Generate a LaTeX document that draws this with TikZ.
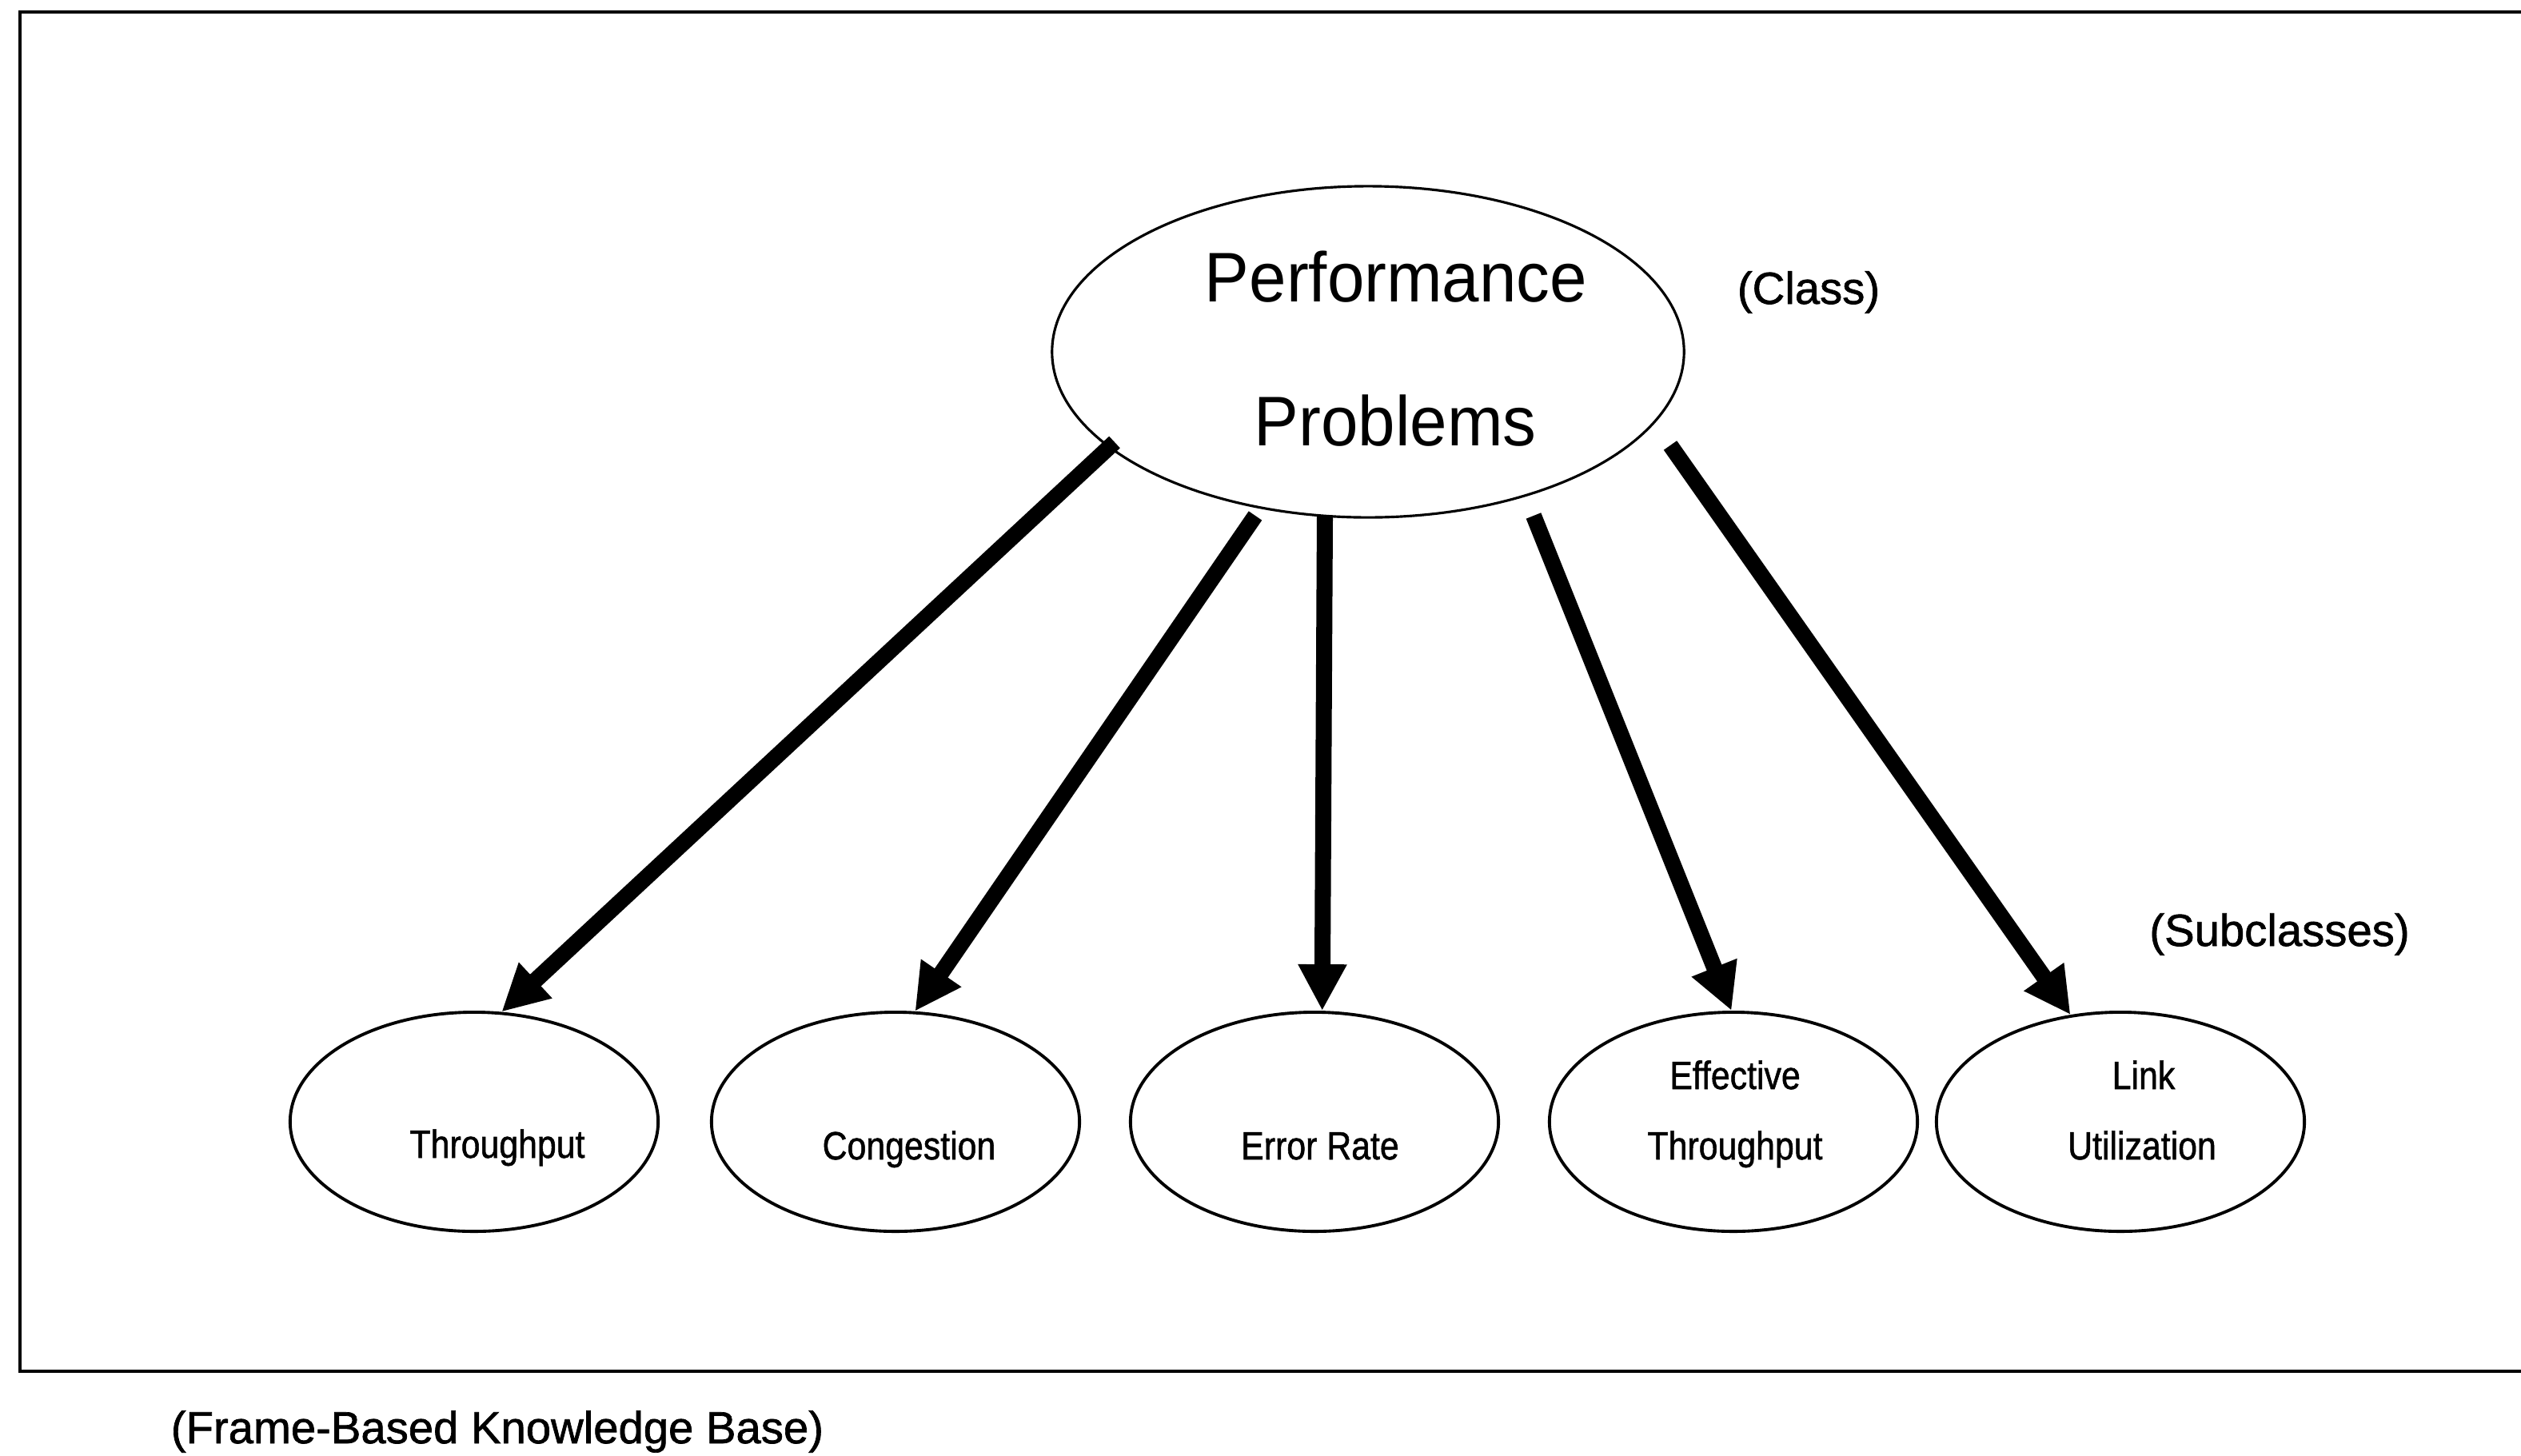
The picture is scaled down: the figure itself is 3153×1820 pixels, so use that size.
\documentclass[tikz,border=0pt]{standalone}
\usepackage{graphicx}
\usepackage{fontspec}
\setmainfont{Liberation Sans}
\newfontfamily\labelfont[FakeBold=1.2]{Liberation Sans}
\usetikzlibrary{arrows.meta,shapes.geometric,calc}
\begin{document}
\begin{tikzpicture}[x=0.01cm,y=-0.01cm,
  classoval/.style={ellipse,draw,line width=0.9pt,inner sep=0pt,
    minimum width=7.9cm,minimum height=4.14cm},
  suboval/.style={ellipse,draw,line width=1.1pt,inner sep=0pt,
    minimum width=4.6cm,minimum height=2.74cm},
  isa/.style={line width=5.7pt,-{Triangle[length=0.58cm,width=0.57cm]}},
  bigtext/.style={font=\fontsize{25}{30}\selectfont,anchor=base,inner sep=0pt},
  sidetext/.style={font=\labelfont\fontsize{16}{19}\selectfont,anchor=base,inner sep=0pt},
  subtext/.style={font=\labelfont\fontsize{14}{17}\selectfont,anchor=base,inner sep=0pt}]

\useasboundingbox (0,0) rectangle (3153,1820);
\fill[white] (0,0) rectangle (3153,1820);

% frame of the knowledge base (open on the right)
\draw[line width=1.2pt] (3153,15) -- (25,15) -- (25,1715) -- (3153,1715);

% class
\node[classoval] (pp) at (1711,440) {};
\node[bigtext] (pp-a) at (1746,377) {\scalebox{0.95}[1]{Performance}};
\node[bigtext] (pp-b) at (1745,557) {\scalebox{0.95}[1]{Problems}};
\node[sidetext] (cls) at (2262,380) {(Class)};

% subclasses
\node[suboval] (thr) at (593,1403) {};
\node[suboval] (cng) at (1120,1403) {};
\node[suboval] (err) at (1644,1403) {};
\node[suboval] (eff) at (2168,1403) {};
\node[suboval] (lnk) at (2652,1403) {};

\node[subtext] (thr-t) at (622,1448) {\scalebox{0.87}[1]{Throughput}};
\node[subtext] (cng-t) at (1137,1450) {\scalebox{0.87}[1]{Congestion}};
\node[subtext] (err-t) at (1651,1450) {\scalebox{0.87}[1]{Error Rate}};
\node[subtext] (eff-a) at (2170,1362) {\scalebox{0.87}[1]{Effective}};
\node[subtext] (eff-b) at (2170,1450) {\scalebox{0.87}[1]{Throughput}};
\node[subtext] (lnk-a) at (2681,1362) {\scalebox{0.87}[1]{Link}};
\node[subtext] (lnk-b) at (2679,1450) {\scalebox{0.87}[1]{Utilization}};

\node[sidetext] (sub) at (2851,1183) {(Subclasses)};
\node[sidetext] (kb) at (622,1805) {(Frame-Based Knowledge Base)};

% subclass links
\draw[isa] ($(pp.center)+(-317,113)$) -- (thr.76.8);
\draw[isa] ($(pp.center)+(-141,205)$) -- (cng.80.8);
\draw[isa] ($(pp.center)+(-54,205)$) -- (err.86.9);
\draw[isa] ($(pp.center)+(207,205)$) -- (eff.91.3);
\draw[isa] ($(pp.center)+(378,117)$) -- (lnk.115.2);
\end{tikzpicture}
\end{document}
